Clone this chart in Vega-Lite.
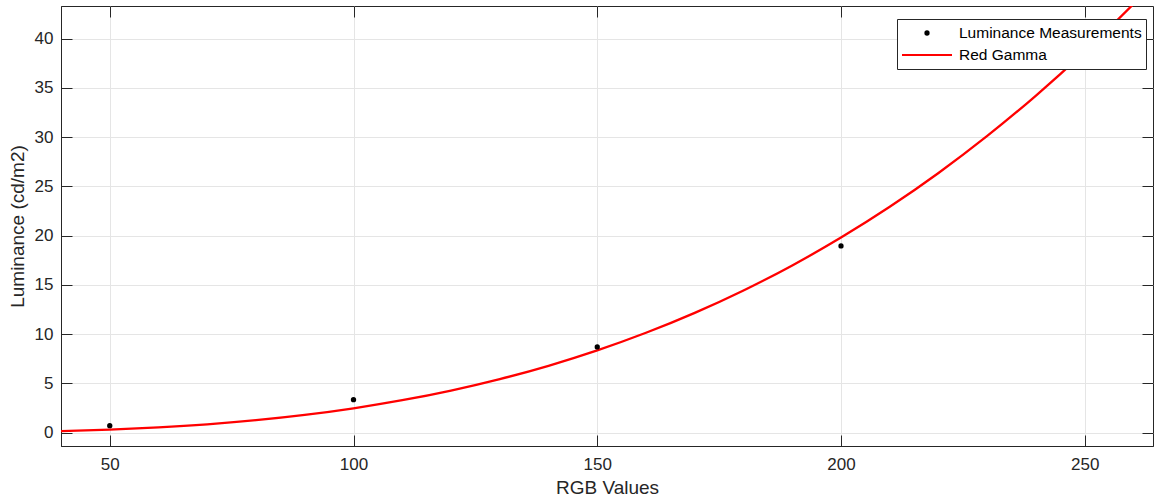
{
  "$schema": "https://vega.github.io/schema/vega-lite/v6.json",
  "width": 1092,
  "height": 440,
  "autosize": {"type": "none"},
  "padding": {"left": 61, "top": 6, "right": 1, "bottom": 57},
  "background": "white",
  "config": {
    "font": "Liberation Sans",
    "view": {"stroke": "#262626", "strokeWidth": 1},
    "axis": {
      "labelFont": "Liberation Sans",
      "labelFontSize": 17,
      "labelColor": "#262626",
      "titleFont": "Liberation Sans",
      "titleFontSize": 19,
      "titleFontWeight": "normal",
      "titleColor": "#262626",
      "domainColor": "#262626",
      "tickColor": "#262626",
      "gridColor": "#e5e5e5",
      "tickSize": -11,
      "labelPadding": 19
    }
  },
  "datasets": {
    "meas": [
      {"rgb": 50, "luminance": 0.71, "series": "Luminance Measurements"},
      {"rgb": 100, "luminance": 3.35, "series": "Luminance Measurements"},
      {"rgb": 150, "luminance": 8.7, "series": "Luminance Measurements"},
      {"rgb": 200, "luminance": 18.95, "series": "Luminance Measurements"}
    ],
    "curve": [
      {"rgb": 40, "luminance": 0.158, "series": "Red Gamma"},
      {"rgb": 50, "luminance": 0.309, "series": "Red Gamma"},
      {"rgb": 60, "luminance": 0.535, "series": "Red Gamma"},
      {"rgb": 70, "luminance": 0.849, "series": "Red Gamma"},
      {"rgb": 80, "luminance": 1.267, "series": "Red Gamma"},
      {"rgb": 90, "luminance": 1.804, "series": "Red Gamma"},
      {"rgb": 100, "luminance": 2.475, "series": "Red Gamma"},
      {"rgb": 110, "luminance": 3.294, "series": "Red Gamma"},
      {"rgb": 120, "luminance": 4.277, "series": "Red Gamma"},
      {"rgb": 130, "luminance": 5.438, "series": "Red Gamma"},
      {"rgb": 140, "luminance": 6.791, "series": "Red Gamma"},
      {"rgb": 150, "luminance": 8.353, "series": "Red Gamma"},
      {"rgb": 160, "luminance": 10.138, "series": "Red Gamma"},
      {"rgb": 170, "luminance": 12.16, "series": "Red Gamma"},
      {"rgb": 180, "luminance": 14.434, "series": "Red Gamma"},
      {"rgb": 190, "luminance": 16.976, "series": "Red Gamma"},
      {"rgb": 200, "luminance": 19.8, "series": "Red Gamma"},
      {"rgb": 210, "luminance": 22.921, "series": "Red Gamma"},
      {"rgb": 220, "luminance": 26.354, "series": "Red Gamma"},
      {"rgb": 230, "luminance": 30.113, "series": "Red Gamma"},
      {"rgb": 240, "luminance": 34.214, "series": "Red Gamma"},
      {"rgb": 250, "luminance": 38.672, "series": "Red Gamma"},
      {"rgb": 260, "luminance": 43.501, "series": "Red Gamma"},
      {"rgb": 264, "luminance": 45.5, "series": "Red Gamma"}
    ]
  },
  "layer": [
    {
      "data": {"name": "curve"},
      "mark": {"type": "line", "color": "#ff0000", "strokeWidth": 2.3, "clip": true, "interpolate": "monotone"},
      "encoding": {
        "x": {
          "field": "rgb",
          "type": "quantitative",
          "scale": {"domain": [40, 264], "nice": false, "zero": false},
          "axis": {"orient": "bottom", "title": "RGB Values", "values": [50, 100, 150, 200, 250], "grid": true, "labelPadding": 21, "titlePadding": 6}
        },
        "y": {
          "field": "luminance",
          "type": "quantitative",
          "scale": {"domain": [-1.35, 43.3], "nice": false, "zero": false},
          "axis": {"orient": "left", "title": "Luminance (cd/m2)", "values": [0, 5, 10, 15, 20, 25, 30, 35, 40], "grid": true, "titlePadding": 7}
        }
      }
    },
    {
      "data": {"name": "meas"},
      "mark": {"type": "point", "filled": true, "opacity": 1, "clip": true},
      "encoding": {
        "x": {
          "field": "rgb",
          "type": "quantitative",
          "axis": {"orient": "top", "title": null, "labels": false, "grid": false, "domain": false, "values": [50, 100, 150, 200, 250]}
        },
        "y": {
          "field": "luminance",
          "type": "quantitative",
          "axis": {"orient": "right", "title": null, "labels": false, "grid": false, "domain": false, "values": [0, 5, 10, 15, 20, 25, 30, 35, 40]}
        },
        "fill": {
          "field": "series",
          "type": "nominal",
          "scale": {"domain": ["Luminance Measurements", "Red Gamma"], "range": ["#000000", "transparent"]},
          "legend": {"title": null, "orient": "none", "legendX": 836, "legendY": 13, "fillColor": "white", "strokeColor": "#262626", "padding": 4, "clipHeight": 20, "rowPadding": 2, "labelFont": "Liberation Sans", "labelFontSize": 15.5, "labelColor": "#000000", "labelOffset": 6, "labelLimit": 400, "symbolStrokeWidth": 2}
        },
        "stroke": {
          "field": "series",
          "type": "nominal",
          "scale": {"domain": ["Luminance Measurements", "Red Gamma"], "range": ["transparent", "#ff0000"]},
          "legend": {"title": null, "orient": "none", "legendX": 836, "legendY": 13, "fillColor": "white", "strokeColor": "#262626", "padding": 4, "clipHeight": 20, "rowPadding": 2, "labelFont": "Liberation Sans", "labelFontSize": 15.5, "labelColor": "#000000", "labelOffset": 6, "labelLimit": 400, "symbolStrokeWidth": 2}
        },
        "shape": {
          "field": "series",
          "type": "nominal",
          "scale": {"domain": ["Luminance Measurements", "Red Gamma"], "range": ["circle", "stroke"]},
          "legend": {"title": null, "orient": "none", "legendX": 836, "legendY": 13, "fillColor": "white", "strokeColor": "#262626", "padding": 4, "clipHeight": 20, "rowPadding": 2, "labelFont": "Liberation Sans", "labelFontSize": 15.5, "labelColor": "#000000", "labelOffset": 6, "labelLimit": 400, "symbolStrokeWidth": 2}
        },
        "size": {
          "field": "series",
          "type": "nominal",
          "scale": {"type": "ordinal", "domain": ["Luminance Measurements", "Red Gamma"], "range": [28, 2500]},
          "legend": {"title": null, "orient": "none", "legendX": 836, "legendY": 13, "fillColor": "white", "strokeColor": "#262626", "padding": 4, "clipHeight": 20, "rowPadding": 2, "labelFont": "Liberation Sans", "labelFontSize": 15.5, "labelColor": "#000000", "labelOffset": 6, "labelLimit": 400, "symbolStrokeWidth": 2}
        }
      }
    }
  ],
  "resolve": {"axis": {"x": "independent", "y": "independent"}}
}
